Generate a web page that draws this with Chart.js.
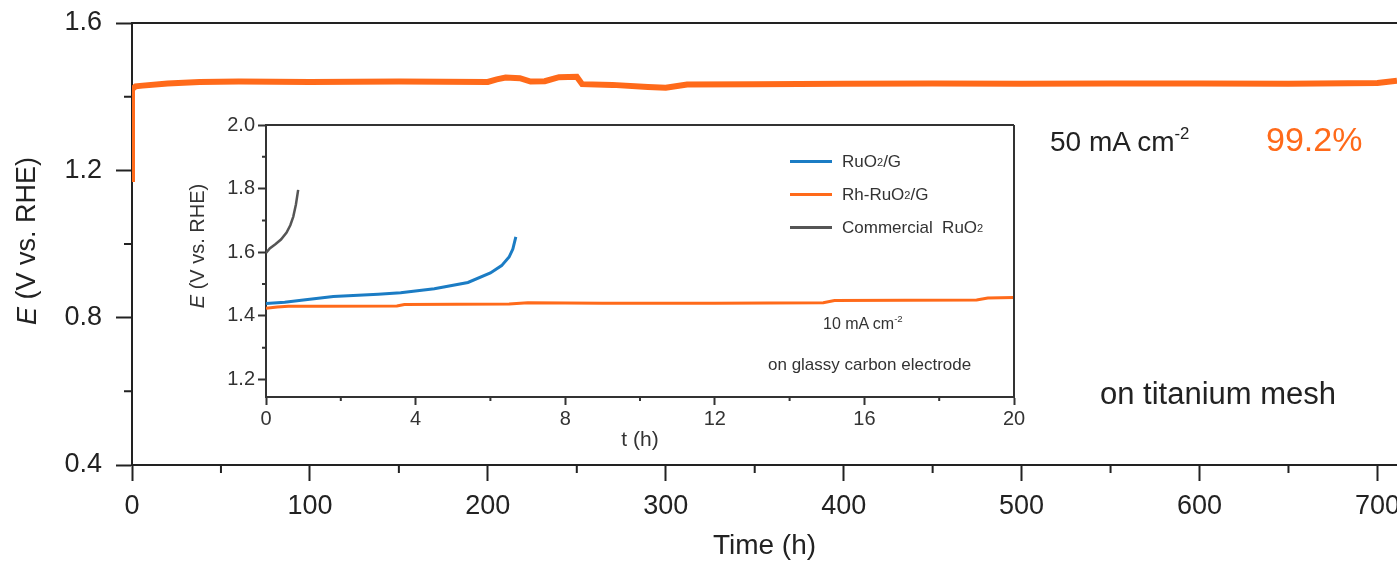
<!DOCTYPE html>
<html>
<head>
<meta charset="utf-8">
<script src="https://cdn.jsdelivr.net/npm/chart.js@4.4.1/dist/chart.umd.min.js"></script>
<style>
    body { margin: 0; background: #fff; }
    #wrap { position: relative; width: 1397px; height: 563px; overflow: hidden; font-family: Arial, "Liberation Sans", sans-serif; color: #222; }
    #main-chart { position: absolute; left: 0; top: 0; }
    #inset-chart { position: absolute; left: 150px; top: 105px; }
    .note { position: absolute; white-space: nowrap; line-height: 1; }
    .note sup { font-size: 0.6em; vertical-align: 0.7em; }
    #legend { position: absolute; left: 790px; top: 145px; font-size: 17px; color: #333; }
    #legend div { height: 33px; display: flex; align-items: center; }
    #legend span.line { display: inline-block; width: 42px; height: 3px; margin-right: 10px; }
    #legend sub { font-size: 0.65em; vertical-align: -0.3em; }
</style>
</head>
<body>
<div id="wrap">
    <canvas id="main-chart" width="1397" height="563"></canvas>
    <canvas id="inset-chart" width="900" height="360"></canvas>

    <div class="note" style="left:1050px; top:126px; font-size:28px;">50 mA cm<sup>-2</sup></div>
    <div class="note" style="left:1266px; top:122px; font-size:34px; color:#ff6a1a;">99.2%</div>
    <div class="note" style="left:1100px; top:378px; font-size:31px;">on titanium mesh</div>

    <div class="note" style="left:823px; top:314px; font-size:16px; color:#333;">10 mA cm<sup>-2</sup></div>
    <div class="note" style="left:768px; top:356px; font-size:17px; color:#333;">on glassy carbon electrode</div>

    <div id="legend">
        <div><span class="line" style="background:#1b7cc4"></span>RuO<sub>2</sub>/G</div>
        <div><span class="line" style="background:#ff6a1a"></span>Rh-RuO<sub>2</sub>/G</div>
        <div><span class="line" style="background:#555"></span>Commercial&nbsp;&nbsp;RuO<sub>2</sub></div>
    </div>
</div>

<script>
// main stability run, 50 mA cm-2 on Ti mesh
const mainTime = [0, 0, 2, 6, 20, 38, 60, 100, 150, 200, 205, 210, 218, 224, 232, 240, 250, 253, 270, 290, 300, 312, 350, 400, 450, 500, 550, 600, 650, 700, 711];
const mainE = [1.168, 1.42, 1.428, 1.430, 1.436, 1.440, 1.441, 1.440, 1.441, 1.440, 1.447, 1.452, 1.450, 1.441, 1.442, 1.453, 1.454, 1.434, 1.432, 1.426, 1.424, 1.433, 1.434, 1.435, 1.436, 1.435, 1.436, 1.436, 1.435, 1.437, 1.443];

// inset, 10 mA cm-2 on glassy carbon
const rhTime = [0, 0.3, 0.6, 1.5, 3.5, 3.7, 6.5, 7, 9, 12, 14.9, 15.2, 19, 19.3, 20];
const rhE = [1.424, 1.428, 1.430, 1.430, 1.431, 1.436, 1.437, 1.441, 1.440, 1.440, 1.441, 1.448, 1.450, 1.456, 1.458];

const ruTime = [0, 0.5, 1, 1.8, 3, 3.6, 4.5, 5.4, 6, 6.3, 6.5, 6.6, 6.68];
const ruE = [1.439, 1.443, 1.450, 1.461, 1.468, 1.473, 1.485, 1.505, 1.535, 1.558, 1.585, 1.61, 1.648];

const comTime = [0, 0.1, 0.25, 0.4, 0.55, 0.65, 0.73, 0.8, 0.86];
const comE = [1.598, 1.612, 1.625, 1.640, 1.662, 1.685, 1.712, 1.750, 1.796];

// minor tick positions
const mainMinorX = [50, 150, 250, 350, 450, 550, 650];
const mainMinorY = [0.6, 1.0, 1.4];
const insetMinorX = [2, 6, 10, 14, 18];
const insetMinorY = [1.3, 1.5, 1.7, 1.9];

const ORANGE = '#ff6a1a';
const BLUE = '#1b7cc4';
const GREY = '#555';

Chart.defaults.font.family = 'Arial, "Liberation Sans", sans-serif';

const toPoints = (xs, ys) => xs.map((x, i) => ({ x: x, y: ys[i] }));

// no label overhang padding, so the plot box sits where the layout says
const fitX = h => s => { s.height = h; s.paddingLeft = 0; s.paddingRight = 0; };
const fitY = w => s => { s.width = w; s.paddingTop = 0; s.paddingBottom = 0; };

// frame line, minor ticks and the y title (italic E) drawn on top of the chart
const extras = {
    id: 'extras',
    afterDraw(chart, args, o) {
        const ctx = chart.ctx;
        const { left, top, right, bottom } = chart.chartArea;
        const xs = chart.scales.x, ys = chart.scales.y;
        ctx.save();
        ctx.strokeStyle = o.color;
        ctx.lineWidth = o.lineWidth;
        ctx.beginPath();
        ctx.moveTo(left, top);
        ctx.lineTo(right, top);
        if (o.rightBorder) {
            ctx.moveTo(right, top);
            ctx.lineTo(right, bottom);
        }
        o.minorX.forEach(v => {
            const p = xs.getPixelForValue(v);
            ctx.moveTo(p, bottom);
            ctx.lineTo(p, bottom + o.minorLen);
        });
        o.minorY.forEach(v => {
            const p = ys.getPixelForValue(v);
            ctx.moveTo(left, p);
            ctx.lineTo(left - o.minorLen, p);
        });
        ctx.stroke();

        // y title
        const ff = Chart.defaults.font.family;
        const italic = 'italic ' + o.titleSize + 'px ' + ff;
        const normal = o.titleSize + 'px ' + ff;
        const rest = ' (V vs. RHE)';
        ctx.font = italic;
        const wE = ctx.measureText('E').width;
        ctx.font = normal;
        const wR = ctx.measureText(rest).width;
        ctx.translate(o.titleX, o.titleY);
        ctx.rotate(-Math.PI / 2);
        ctx.fillStyle = o.textColor;
        ctx.textBaseline = 'middle';
        ctx.textAlign = 'left';
        const start = -(wE + wR) / 2;
        ctx.font = italic;
        ctx.fillText('E', start, 0);
        ctx.font = normal;
        ctx.fillText(rest, start + wE, 0);
        ctx.restore();
    }
};

new Chart(document.getElementById('main-chart'), {
    type: 'line',
    data: {
        datasets: [{
            data: toPoints(mainTime, mainE),
            borderColor: ORANGE,
            borderWidth: 6,
            pointRadius: 0,
            tension: 0
        }]
    },
    options: {
        responsive: false,
        animation: false,
        layout: { padding: { top: 23, left: 0, right: 0, bottom: 0 } },
        plugins: {
            legend: { display: false },
            tooltip: { enabled: false },
            extras: {
                color: '#222', lineWidth: 2, rightBorder: false,
                minorX: mainMinorX, minorY: mainMinorY, minorLen: 8,
                titleX: 28, titleY: 241, titleSize: 27, textColor: '#222'
            }
        },
        scales: {
            x: {
                type: 'linear', min: 0, max: 711,
                ticks: { stepSize: 100, includeBounds: false, color: '#222', font: { size: 27 }, padding: 9, maxRotation: 0 },
                grid: { drawOnChartArea: false, tickLength: 16, tickColor: '#222', tickWidth: 2 },
                border: { color: '#222', width: 2 },
                title: { display: true, text: 'Time (h)', color: '#222', font: { size: 28 }, padding: { top: 0, bottom: 0 } },
                afterFit: fitX(98)
            },
            y: {
                min: 0.4, max: 1.6,
                ticks: { stepSize: 0.4, includeBounds: false, color: '#222', font: { size: 27 }, padding: 14, callback: v => v.toFixed(1) },
                grid: { drawOnChartArea: false, tickLength: 16, tickColor: '#222', tickWidth: 2 },
                border: { color: '#222', width: 2 },
                afterFit: fitY(132)
            }
        }
    },
    plugins: [extras]
});

new Chart(document.getElementById('inset-chart'), {
    type: 'line',
    data: {
        datasets: [
            { label: 'RuO2/G', data: toPoints(ruTime, ruE), borderColor: BLUE, borderWidth: 3, pointRadius: 0, tension: 0 },
            { label: 'Rh-RuO2/G', data: toPoints(rhTime, rhE), borderColor: ORANGE, borderWidth: 3, pointRadius: 0, tension: 0 },
            { label: 'Commercial RuO2', data: toPoints(comTime, comE), borderColor: GREY, borderWidth: 2.5, pointRadius: 0, tension: 0 }
        ]
    },
    options: {
        responsive: false,
        animation: false,
        layout: { padding: { top: 20, left: 0, right: 36, bottom: 0 } },
        plugins: {
            legend: { display: false },
            tooltip: { enabled: false },
            extras: {
                color: '#333', lineWidth: 2, rightBorder: true,
                minorX: insetMinorX, minorY: insetMinorY, minorLen: 4,
                titleX: 48, titleY: 141, titleSize: 20, textColor: '#333'
            }
        },
        scales: {
            x: {
                type: 'linear', min: 0, max: 20,
                ticks: { stepSize: 4, includeBounds: false, color: '#333', font: { size: 20 }, padding: 2, maxRotation: 0 },
                grid: { drawOnChartArea: false, tickLength: 8, tickColor: '#333', tickWidth: 2 },
                border: { color: '#333', width: 2 },
                title: { display: true, text: 't (h)', color: '#333', font: { size: 21 }, padding: { top: 0, bottom: 12 } },
                afterFit: fitX(68)
            },
            y: {
                min: 1.145, max: 2.0,
                ticks: { stepSize: 0.2, includeBounds: false, color: '#333', font: { size: 20 }, padding: 3, callback: v => v.toFixed(1) },
                grid: { drawOnChartArea: false, tickLength: 8, tickColor: '#333', tickWidth: 2 },
                border: { color: '#333', width: 2 },
                afterFit: fitY(116)
            }
        }
    },
    plugins: [extras]
});
</script>
</body>
</html>
